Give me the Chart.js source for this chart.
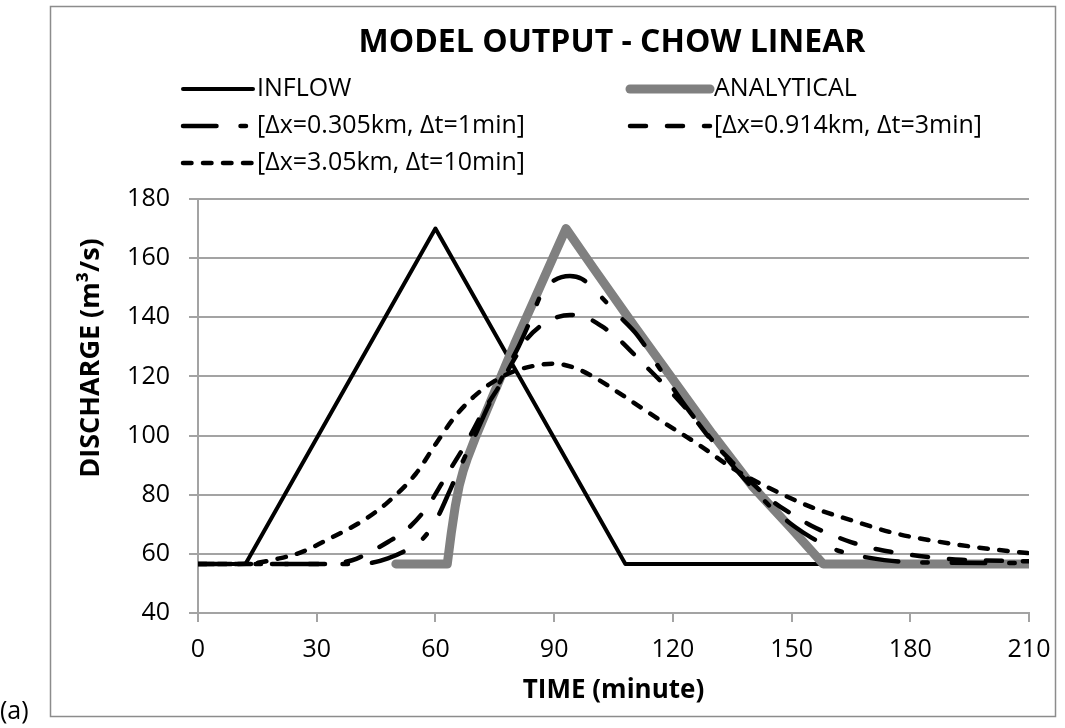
<!DOCTYPE html>
<html>
<head>
<meta charset="utf-8">
<script src="https://cdn.jsdelivr.net/npm/chart.js@4.4.0/dist/chart.umd.min.js"></script>
<style>
  html, body { margin: 0; padding: 0; background: #fff; }
  #wrap { width: 1065px; height: 728px; }
</style>
</head>
<body>
<div id="wrap"><canvas id="chow" width="1065" height="728"></canvas></div>
<script>
// time in minutes, discharge in m3/s
const inflowTime = [0, 12, 60, 108, 210];
const inflowQ = [56.6, 56.6, 170, 56.6, 56.6];

const analyticalTime = [50, 63, 64, 65, 66, 67, 68, 70, 75, 80, 85, 90, 93, 100, 110, 120, 130, 140, 150, 158, 210];
const analyticalQ = [56.6, 56.6, 67, 76, 83, 88, 92, 99, 115, 131, 146, 161, 170, 156.5, 137.5, 119, 100.5, 83, 68.5, 56.6, 56.6];

// dx = 0.305 km, dt = 1 min
const run1Time = [0, 40, 44, 48, 52, 56, 60, 64, 67, 70, 73, 77, 81, 84, 87, 90, 94, 97, 100, 106, 111, 117, 124, 129, 135, 140, 145, 151, 155, 160, 164, 169, 178, 190, 210];
const run1Q = [56.6, 56.6, 57, 58.5, 60.8, 64, 71, 82.5, 91.5, 100, 109, 120, 130, 139, 148.5, 152.5, 154, 153, 149.5, 141, 134, 122, 108.5, 100, 90, 82.5, 75.5, 69, 65.5, 62, 60.2, 58.8, 57.3, 57, 56.9];

// dx = 0.914 km, dt = 3 min
const run2Time = [0, 32, 36, 40, 44, 48, 53, 58, 63, 68, 72, 76, 80, 83, 87, 90, 94, 98, 102, 106, 112, 119, 125, 130, 135, 140, 145, 150, 155, 160, 165, 170, 175, 184, 193, 210];
const run2Q = [56.6, 56.6, 57, 58.3, 61, 64, 68.5, 76, 87, 98, 108, 116.5, 126, 132.5, 137.5, 139.7, 140.8, 140, 137, 133, 125, 115.5, 106.5, 98, 91, 84, 78, 73.5, 69.5, 66.5, 64, 62, 60.7, 59, 58, 57.5];

// dx = 3.05 km, dt = 10 min
const run3Time = [0, 10, 14, 20, 26, 33, 42, 48, 55, 60, 65, 70, 75, 80, 85, 90, 95, 100, 108, 117, 127, 135, 144, 155, 165, 176, 185, 198, 210];
const run3Q = [56.6, 56.6, 56.8, 58.3, 60.5, 65, 71.5, 77.5, 87, 97, 106.5, 113.5, 118.5, 121.8, 123.6, 124.3, 123, 119.8, 113, 105, 96.5, 89, 82.5, 75.8, 71.4, 67, 64.6, 62, 60.2];

const seriesNames = ['INFLOW', 'ANALYTICAL', '[Δx=0.305km, Δt=1min]', '[Δx=0.914km, Δt=3min]', '[Δx=3.05km, Δt=10min]'];

const FONT = "'Open Sans', sans-serif";
const GRID = '#a3a3a3';

function toPoints(t, q) {
    return t.map((x, i) => ({ x: x, y: q[i] }));
}

// legend slots: column/row placement of each series
const legendSlots = [
    { x: 183, y: 89, w: 70 },
    { x: 630, y: 89, w: 80 },
    { x: 183, y: 126, w: 70 },
    { x: 630, y: 126, w: 80 },
    { x: 183, y: 163, w: 70 }
];

const framePlugin = {
    id: 'frame',
    beforeDraw(chart) {
        const ctx = chart.ctx;
        ctx.save();
        ctx.fillStyle = '#fff';
        ctx.fillRect(0, 0, chart.width, chart.height);
        ctx.strokeStyle = '#8c8c8c';
        ctx.lineWidth = 1.5;
        ctx.strokeRect(50.5, 6.5, 1005, 710);
        ctx.fillStyle = '#000';
        ctx.font = '25px ' + FONT;
        ctx.textBaseline = 'middle';
        ctx.textAlign = 'left';
        ctx.fillText('(a)', 0, 712);
        ctx.restore();
    },
    afterDraw(chart) {
        const ctx = chart.ctx;
        ctx.save();
        // main title
        ctx.fillStyle = '#000';
        ctx.font = 'bold 32px ' + FONT;
        ctx.textAlign = 'center';
        ctx.textBaseline = 'middle';
        ctx.fillText('MODEL OUTPUT - CHOW LINEAR', 612, 43);

        // y axis title, centred a little above the plot middle
        ctx.save();
        ctx.translate(91, 358);
        ctx.rotate(-Math.PI / 2);
        ctx.font = 'bold 27px ' + FONT;
        ctx.fillText('DISCHARGE (m³/s)', 0, 0);
        ctx.restore();

        // legend in two columns
        chart.data.datasets.forEach((ds, i) => {
            const s = legendSlots[i];
            ctx.save();
            ctx.beginPath();
            ctx.rect(s.x - 6, s.y - 10, s.w + 12, 20);
            ctx.clip();
            ctx.strokeStyle = ds.borderColor;
            ctx.lineWidth = ds.borderWidth;
            ctx.lineCap = ds.borderCapStyle || 'butt';
            ctx.setLineDash(ds.borderDash || []);
            ctx.beginPath();
            ctx.moveTo(s.x, s.y);
            ctx.lineTo(s.x + s.w, s.y);
            ctx.stroke();
            ctx.restore();
            ctx.fillStyle = '#000';
            ctx.font = '25px ' + FONT;
            ctx.textAlign = 'left';
            ctx.textBaseline = 'middle';
            ctx.fillText(ds.label, s.x + s.w + 4, s.y);
        });
        ctx.restore();
    }
};

new Chart(document.getElementById('chow'), {
    type: 'line',
    data: {
        datasets: [
            {
                label: seriesNames[0],
                data: toPoints(inflowTime, inflowQ),
                borderColor: '#000',
                borderWidth: 4,
                borderCapStyle: 'round',
                borderJoinStyle: 'round',
                tension: 0,
                order: 5
            },
            {
                label: seriesNames[1],
                data: toPoints(analyticalTime, analyticalQ),
                borderColor: '#808080',
                borderWidth: 9,
                borderCapStyle: 'round',
                borderJoinStyle: 'round',
                tension: 0,
                order: 4
            },
            {
                label: seriesNames[2],
                data: toPoints(run1Time, run1Q),
                borderColor: '#000',
                borderWidth: 4.5,
                borderDash: [33.5, 24, 5.5, 24],
                borderCapStyle: 'round',
                cubicInterpolationMode: 'monotone',
                order: 3
            },
            {
                label: seriesNames[3],
                data: toPoints(run2Time, run2Q),
                borderColor: '#000',
                borderWidth: 4.5,
                borderDash: [16, 21],
                borderCapStyle: 'round',
                cubicInterpolationMode: 'monotone',
                order: 2
            },
            {
                label: seriesNames[4],
                data: toPoints(run3Time, run3Q),
                borderColor: '#000',
                borderWidth: 4.5,
                borderDash: [8.5, 11.5],
                borderCapStyle: 'round',
                cubicInterpolationMode: 'monotone',
                order: 1
            }
        ]
    },
    options: {
        responsive: false,
        animation: false,
        devicePixelRatio: 1,
        layout: {
            padding: { left: 50, right: 36, top: 199, bottom: 12 }
        },
        elements: {
            point: { radius: 0 }
        },
        plugins: {
            legend: { display: false },
            title: { display: false },
            tooltip: { enabled: false }
        },
        scales: {
            x: {
                type: 'linear',
                min: 0,
                max: 210,
                ticks: {
                    stepSize: 30,
                    color: '#000',
                    font: { family: FONT, size: 25 },
                    padding: 13,
                    maxRotation: 0
                },
                grid: {
                    drawOnChartArea: false,
                    drawTicks: true,
                    tickLength: 9,
                    color: GRID,
                    lineWidth: 2
                },
                border: { color: GRID, width: 2 },
                title: {
                    display: true,
                    text: 'TIME (minute)',
                    color: '#000',
                    font: { family: FONT, size: 26, weight: 'bold' },
                    padding: { top: 0, bottom: 10 }
                },
                afterFit(scale) { scale.height = 103; }
            },
            y: {
                min: 40,
                max: 180,
                ticks: {
                    stepSize: 20,
                    color: '#000',
                    font: { family: FONT, size: 25 },
                    padding: 19
                },
                grid: {
                    tickLength: 9,
                    color: GRID,
                    lineWidth: 2
                },
                border: { color: GRID, width: 2 },
                afterFit(scale) { scale.width = 148; }
            }
        }
    },
    plugins: [framePlugin]
});
</script>
</body>
</html>
